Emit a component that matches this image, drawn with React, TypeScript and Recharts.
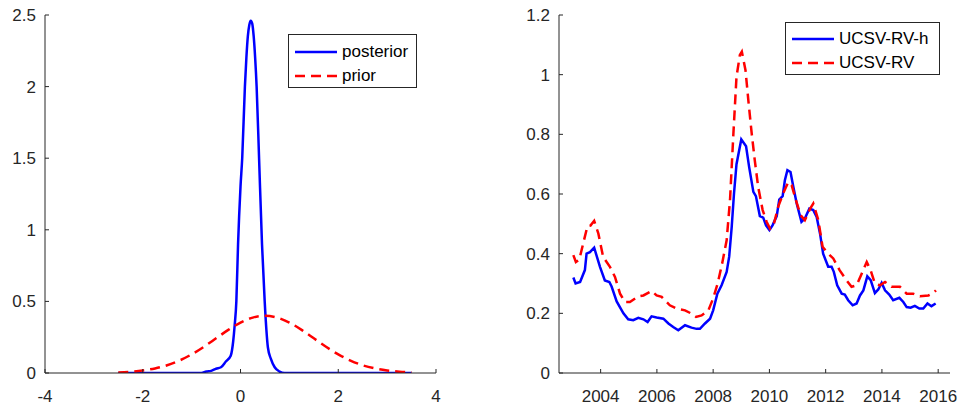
import React from 'react';
import { LineChart, Line, XAxis, YAxis } from 'recharts';

// left panel: densities
const priorX = [-2.5, -2.25, -2, -1.75, -1.5, -1.25, -1, -0.75, -0.5, -0.25, 0, 0.25, 0.5, 0.75, 1, 1.25, 1.5, 1.75, 2, 2.25, 2.5, 2.75, 3, 3.25, 3.5];
const priorY = [0.004, 0.009, 0.018, 0.032, 0.054, 0.087, 0.13, 0.183, 0.242, 0.301, 0.352, 0.387, 0.399, 0.387, 0.352, 0.301, 0.242, 0.183, 0.13, 0.087, 0.054, 0.032, 0.018, 0.009, 0.004];

const postX = [-2.5, -1.5, -1, -0.8, -0.7, -0.6, -0.5, -0.4, -0.3, -0.2, -0.15, -0.12, -0.085, -0.05, 0, 0.035, 0.09, 0.12, 0.15, 0.18, 0.21, 0.24, 0.27, 0.3, 0.33, 0.38, 0.44, 0.495, 0.53, 0.56, 0.62, 0.7, 0.8, 0.9, 1, 2, 3, 3.5];
const postY = [0, 0, 0, 0, 0.01, 0.015, 0.03, 0.04, 0.08, 0.12, 0.22, 0.33, 0.5, 0.9, 1.3, 1.5, 2.0, 2.2, 2.35, 2.43, 2.46, 2.44, 2.35, 2.2, 2.0, 1.5, 0.9, 0.5, 0.3, 0.18, 0.1, 0.04, 0.01, 0, 0, 0, 0, 0];

const leftXTicks = [-4, -2, 0, 2, 4];
const leftYTicks = [0, 0.5, 1, 1.5, 2, 2.5];

// right panel: volatility estimates
const rvhYears = [2003.03, 2003.11, 2003.27, 2003.44, 2003.5, 2003.62, 2003.77, 2003.98, 2004.15, 2004.31, 2004.39, 2004.57, 2004.81, 2004.98, 2005.16, 2005.34, 2005.52, 2005.67, 2005.81, 2005.99, 2006.23, 2006.41, 2006.58, 2006.76, 2007.0, 2007.23, 2007.41, 2007.53, 2007.71, 2007.89, 2008.0, 2008.15, 2008.3, 2008.48, 2008.57, 2008.66, 2008.74, 2008.83, 2009.0, 2009.17, 2009.28, 2009.43, 2009.52, 2009.66, 2009.78, 2009.88, 2010.0, 2010.11, 2010.26, 2010.35, 2010.47, 2010.55, 2010.64, 2010.75, 2010.85, 2010.97, 2011.14, 2011.26, 2011.42, 2011.56, 2011.68, 2011.8, 2011.91, 2012.09, 2012.21, 2012.29, 2012.41, 2012.57, 2012.68, 2012.8, 2012.96, 2013.1, 2013.22, 2013.34, 2013.48, 2013.6, 2013.75, 2013.87, 2013.99, 2014.11, 2014.26, 2014.4, 2014.62, 2014.76, 2014.88, 2015.02, 2015.17, 2015.33, 2015.47, 2015.62, 2015.76, 2015.91];
const rvhValues = [0.32, 0.30, 0.305, 0.345, 0.40, 0.405, 0.42, 0.355, 0.31, 0.305, 0.29, 0.24, 0.20, 0.18, 0.177, 0.185, 0.18, 0.171, 0.19, 0.186, 0.182, 0.166, 0.154, 0.143, 0.16, 0.152, 0.148, 0.148, 0.166, 0.182, 0.21, 0.266, 0.294, 0.339, 0.39, 0.49, 0.60, 0.70, 0.783, 0.76, 0.69, 0.607, 0.593, 0.526, 0.521, 0.495, 0.479, 0.495, 0.526, 0.581, 0.593, 0.646, 0.68, 0.674, 0.624, 0.568, 0.507, 0.518, 0.551, 0.546, 0.523, 0.467, 0.40, 0.356, 0.356, 0.339, 0.294, 0.266, 0.263, 0.244, 0.227, 0.233, 0.26, 0.277, 0.324, 0.311, 0.268, 0.28, 0.302, 0.277, 0.263, 0.244, 0.252, 0.238, 0.221, 0.219, 0.225, 0.216, 0.216, 0.233, 0.224, 0.233];

const rvYears = [2003.03, 2003.12, 2003.24, 2003.38, 2003.53, 2003.64, 2003.77, 2003.92, 2004.09, 2004.33, 2004.51, 2004.69, 2004.86, 2005.04, 2005.34, 2005.52, 2005.81, 2005.99, 2006.17, 2006.46, 2006.7, 2007.0, 2007.23, 2007.39, 2007.59, 2007.83, 2008.0, 2008.16, 2008.32, 2008.48, 2008.6, 2008.72, 2008.83, 2008.95, 2009.02, 2009.15, 2009.25, 2009.37, 2009.48, 2009.6, 2009.76, 2009.9, 2010.02, 2010.16, 2010.31, 2010.49, 2010.67, 2010.79, 2010.94, 2011.11, 2011.26, 2011.45, 2011.56, 2011.74, 2011.89, 2012.09, 2012.27, 2012.5, 2012.74, 2012.92, 2013.1, 2013.28, 2013.46, 2013.6, 2013.75, 2013.93, 2014.11, 2014.34, 2014.64, 2014.88, 2015.11, 2015.35, 2015.65, 2015.83, 2015.92];
const rvValues = [0.395, 0.372, 0.38, 0.434, 0.492, 0.494, 0.51, 0.467, 0.389, 0.356, 0.322, 0.266, 0.238, 0.238, 0.257, 0.26, 0.275, 0.26, 0.255, 0.227, 0.216, 0.21, 0.199, 0.188, 0.193, 0.21, 0.25, 0.30, 0.367, 0.445, 0.58, 0.803, 0.993, 1.066, 1.077, 1.015, 0.915, 0.803, 0.713, 0.624, 0.546, 0.507, 0.484, 0.50, 0.557, 0.602, 0.64, 0.63, 0.58, 0.529, 0.512, 0.551, 0.568, 0.512, 0.423, 0.40, 0.384, 0.344, 0.311, 0.289, 0.294, 0.333, 0.372, 0.344, 0.30, 0.294, 0.305, 0.289, 0.289, 0.266, 0.266, 0.257, 0.26, 0.268, 0.277];

const rightXTicks = [2004, 2006, 2008, 2010, 2012, 2014, 2016];
const rightYTicks = [0, 0.2, 0.4, 0.6, 0.8, 1, 1.2];

const toPoints = (xs: number[], ys: number[]) => xs.map((x, i) => ({ x, y: ys[i] }));

const FONT = '"Liberation Sans", Arial, Helvetica, sans-serif';
const AXIS = '#262626';
const DASH = '10 6';
const BLUE = '#0000ff';
const RED = '#ff0000';

const XTick = (props: any) => {
  const { x, y, payload } = props;
  return (
    <g>
      <line x1={x} y1={y} x2={x} y2={y - 4} stroke={AXIS} />
      <text x={x} y={y + 29} textAnchor="middle" fill={AXIS} fontSize={17} fontFamily={FONT}>
        {String(payload.value)}
      </text>
    </g>
  );
};

const YTick = (props: any) => {
  const { x, y, payload } = props;
  return (
    <g>
      <line x1={x} y1={y} x2={x + 4} y2={y} stroke={AXIS} />
      <text x={x - 9} y={y + 6} textAnchor="end" fill={AXIS} fontSize={17} fontFamily={FONT}>
        {String(payload.value)}
      </text>
    </g>
  );
};

type LegendItem = { name: string; color: string; dashed: boolean };

const LegendBox = ({ items, left, top, width, height, rowY }: any) => (
  <div
    style={{
      position: 'absolute',
      left,
      top,
      width,
      height,
      boxSizing: 'border-box',
      border: `1px solid ${AXIS}`,
      background: '#fff',
    }}
  >
    {items.map((p: LegendItem, i: number) => (
      <div key={p.name} style={{ position: 'absolute', left: 6, top: rowY[i] - 10, height: 20, display: 'flex', alignItems: 'center' }}>
        <svg width={42} height={6}>
          <line x1={0} y1={3} x2={42} y2={3} stroke={p.color} strokeWidth={2.5} strokeDasharray={p.dashed ? DASH : undefined} />
        </svg>
        <span style={{ marginLeft: 5, fontSize: 17, fontFamily: FONT, color: '#000', lineHeight: '20px' }}>{p.name}</span>
      </div>
    ))}
  </div>
);

export default function App() {
  const prior = toPoints(priorX, priorY);
  const posterior = toPoints(postX, postY);
  const rvh = toPoints(rvhYears, rvhValues);
  const rv = toPoints(rvYears, rvValues);

  return (
    <div style={{ position: 'absolute', left: 0, top: 0, width: 962, height: 405, background: '#fff' }}>
      <div style={{ position: 'absolute', left: 0, top: 0 }}>
        <LineChart width={480} height={405} margin={{ top: 15, right: 44, bottom: 0, left: 0 }}>
          <XAxis type="number" dataKey="x" domain={[-4, 4]} ticks={leftXTicks} allowDataOverflow height={32}
            stroke={AXIS} tickSize={0} tickMargin={0} tick={<XTick />} />
          <YAxis type="number" dataKey="y" domain={[0, 2.5]} ticks={leftYTicks} allowDataOverflow width={45}
            stroke={AXIS} tickSize={0} tickMargin={0} tick={<YTick />} />
          <Line data={posterior} dataKey="y" name="posterior" stroke={BLUE} strokeWidth={2.5} dot={false} type="monotone" isAnimationActive={false} />
          <Line data={prior} dataKey="y" name="prior" stroke={RED} strokeWidth={2.5} strokeDasharray={DASH} dot={false} type="monotone" isAnimationActive={false} />
        </LineChart>
      </div>
      <LegendBox
        items={[{ name: 'posterior', color: BLUE, dashed: false }, { name: 'prior', color: RED, dashed: true }]}
        left={288} top={34} width={129} height={54} rowY={[17, 41]}
      />
      <div style={{ position: 'absolute', left: 480, top: 0 }}>
        <LineChart width={482} height={405} margin={{ top: 15, right: 12, bottom: 0, left: 0 }}>
          <XAxis type="number" dataKey="x" domain={[2002.52, 2016.42]} ticks={rightXTicks} allowDataOverflow height={32}
            stroke={AXIS} tickSize={0} tickMargin={0} tick={<XTick />} />
          <YAxis type="number" dataKey="y" domain={[0, 1.2]} ticks={rightYTicks} allowDataOverflow width={79}
            stroke={AXIS} tickSize={0} tickMargin={0} tick={<YTick />} />
          <Line data={rvh} dataKey="y" name="UCSV-RV-h" stroke={BLUE} strokeWidth={2.5} dot={false} type="linear" isAnimationActive={false} />
          <Line data={rv} dataKey="y" name="UCSV-RV" stroke={RED} strokeWidth={2.5} strokeDasharray={DASH} dot={false} type="linear" isAnimationActive={false} />
        </LineChart>
      </div>
      <LegendBox
        items={[{ name: 'UCSV-RV-h', color: BLUE, dashed: false }, { name: 'UCSV-RV', color: RED, dashed: true }]}
        left={785} top={22} width={155} height={53} rowY={[16, 40]}
      />
    </div>
  );
}
